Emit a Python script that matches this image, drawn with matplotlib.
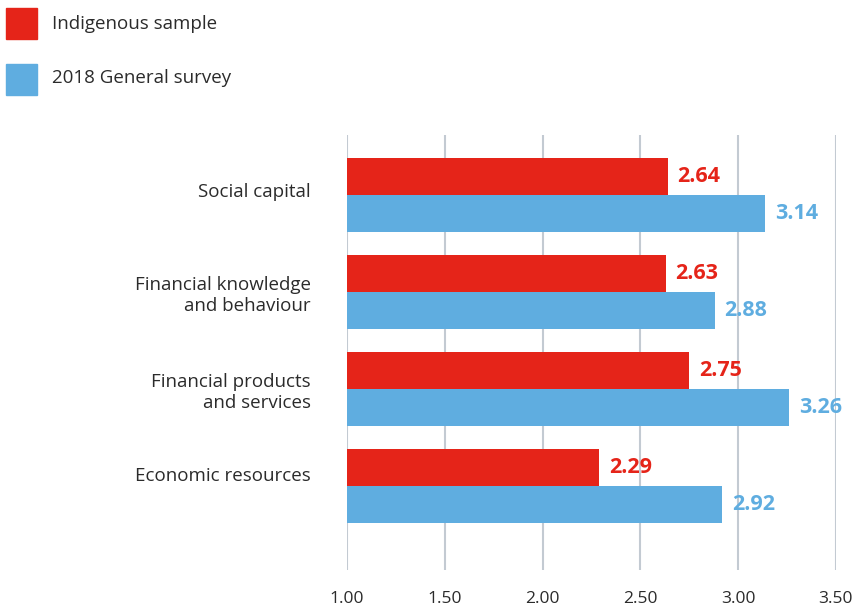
import numpy as np
import matplotlib.pyplot as plt
from matplotlib.patches import Rectangle

categories = ['Social capital', 'Financial knowledge\nand behaviour',
              'Financial products\nand services', 'Economic resources']
indigenous = [2.64, 2.63, 2.75, 2.29]
general = [3.14, 2.88, 3.26, 2.92]
series_names = ['Indigenous sample', '2018 General survey']
xticks = [1.00, 1.50, 2.00, 2.50, 3.00, 3.50]

red = '#e52419'
blue = '#5fade0'
grid_col = '#c3cad2'
text_col = '#2b2b2b'

plt.rcParams['font.family'] = ['Open Sans', 'DejaVu Sans']

fig = plt.figure(figsize=(8.62, 6.07), dpi=100)
ax = fig.add_axes([0.4026, 0.061, 0.567, 0.7166])

y = np.arange(len(categories))
h = 0.38
ax.barh(y - h / 2, [v - 1 for v in indigenous], left=1, height=h, color=red, zorder=2)
ax.barh(y + h / 2, [v - 1 for v in general], left=1, height=h, color=blue, zorder=2)

for i in range(len(categories)):
    ax.text(indigenous[i] + 0.05, y[i] - h / 2, f'{indigenous[i]:.2f}', color=red,
            fontsize=15.5, fontweight='bold', va='center', ha='left')
    ax.text(general[i] + 0.05, y[i] + h / 2, f'{general[i]:.2f}', color=blue,
            fontsize=15.5, fontweight='bold', va='center', ha='left')

ax.set_xlim(1.0, 3.5)
ax.set_ylim(3.87, -0.62)
ax.set_xticks(xticks)
ax.set_xticklabels([f'{t:.2f}' for t in xticks], fontsize=12.5, color=text_col)
ax.set_yticks([0 - 0.05, 1, 2, 3 - 0.12])
ax.set_yticklabels(categories, fontsize=13.5, color=text_col, ha='right',
                   multialignment='right')
ax.tick_params(axis='both', length=0)
ax.tick_params(axis='x', pad=15)
ax.tick_params(axis='y', pad=26)
for t in ax.get_yticklabels():
    t.set_linespacing(1.2)
for s in ax.spines.values():
    s.set_visible(False)
ax.grid(axis='x', color=grid_col, linewidth=1.5, zorder=0)
ax.set_axisbelow(True)

# legend in the top-left corner
fig.patches.append(Rectangle((6 / 862, 1 - 39 / 607), 31 / 862, 31 / 607,
                             transform=fig.transFigure, color=red))
fig.patches.append(Rectangle((6 / 862, 1 - 95 / 607), 31 / 862, 31 / 607,
                             transform=fig.transFigure, color=blue))
fig.text(52 / 862, 1 - 24 / 607, series_names[0], fontsize=13.5, color=text_col, va='center')
fig.text(52 / 862, 1 - 78 / 607, series_names[1], fontsize=13.5, color=text_col, va='center')

fig.savefig('out.png', dpi=100)
